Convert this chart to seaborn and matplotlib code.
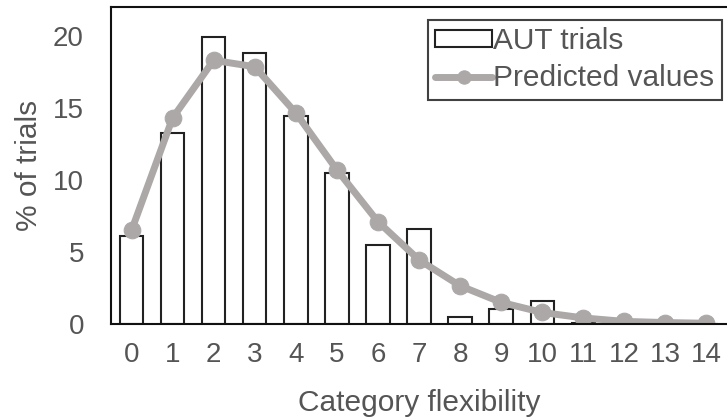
import matplotlib
matplotlib.use("Agg")
import matplotlib.pyplot as plt
import seaborn as sns
import numpy as np
import pandas as pd

categories = list(range(15))
aut_trials = [6.1, 13.25, 19.95, 18.8, 14.4, 10.5, 5.5, 6.6, 0.5, 1.05, 1.6, 0.1, 0.05, 0.0, 0.0]
predicted = [6.5, 14.3, 18.3, 17.85, 14.65, 10.7, 7.1, 4.45, 2.65, 1.5, 0.8, 0.42, 0.18, 0.1, 0.05]
yticks = [0, 5, 10, 15, 20]

sns.set_style("white")
plt.rcParams['font.family'] = ['Liberation Sans', 'DejaVu Sans']
text_color = "#555555"
line_color = "#ABA8A7"
fs = 20
fs_lab = 21.5

df_bar = pd.DataFrame({"cat": categories, "val": aut_trials})
df_line = pd.DataFrame({"cat": categories, "val": predicted})

fig = plt.figure(figsize=(7.27, 4.2), dpi=100)
ax = fig.add_axes([0.1527, 0.2286, 0.8473, 0.7548])

sns.barplot(data=df_bar, x="cat", y="val", ax=ax, color="white", edgecolor="#222222",
            linewidth=1.5, width=0.57, label="AUT trials", saturation=1)
sns.lineplot(data=df_line, x="cat", y="val", ax=ax, color=line_color, linewidth=5,
             marker="o", markersize=12, markeredgecolor=line_color, label="Predicted values")

ax.set_xlim(-0.5, 14.22)
ax.set_ylim(0, 22)
ax.set_yticks(yticks)
ax.set_yticklabels([str(v) for v in yticks])
ax.set_xticks(np.arange(-0.5, 14.6, 1))
ax.set_xticklabels([])
ax.set_xticks(categories, minor=True)
ax.set_xticklabels([str(c) for c in categories], minor=True)
ax.tick_params(axis="x", which="major", direction="out", length=7, width=1.5, color="#111111")
ax.tick_params(axis="x", which="minor", length=0, pad=13, labelsize=fs, labelcolor=text_color)
ax.tick_params(axis="y", direction="out", length=6.5, width=1.5, color="#111111",
               labelsize=fs, labelcolor=text_color, pad=13)
ax.set_xlabel("Category flexibility", fontsize=fs_lab, color=text_color, labelpad=15)
ax.set_ylabel("% of trials", fontsize=fs_lab, color=text_color, labelpad=7)

for side in ["left", "bottom", "top"]:
    ax.spines[side].set_visible(True)
    ax.spines[side].set_color("#111111")
    ax.spines[side].set_linewidth(1.5)
ax.spines["right"].set_visible(False)

handles, labels = ax.get_legend_handles_labels()
order = [labels.index("AUT trials"), labels.index("Predicted values")]
leg = ax.legend([handles[i] for i in order], [labels[i] for i in order],
                loc="upper right", bbox_to_anchor=(0.992, 0.959), fontsize=fs_lab,
                frameon=True, fancybox=False, edgecolor="#111111", handlelength=1.9,
                handleheight=0.5, handletextpad=0.05, borderpad=0.25, labelspacing=0.3,
                borderaxespad=0, markerscale=0.8)
leg.get_frame().set_linewidth(1.5)
for t in leg.get_texts():
    t.set_color(text_color)

fig.savefig("out.png", dpi=100)
